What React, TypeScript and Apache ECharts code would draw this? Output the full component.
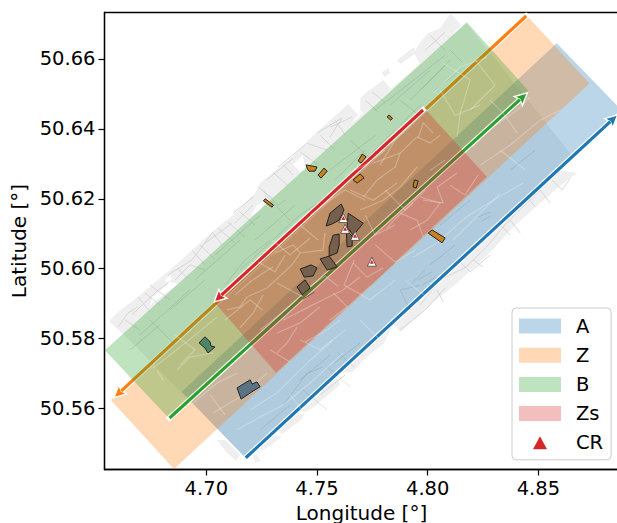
import React, { useEffect, useRef } from "react";
import * as echarts from "echarts";

type P = number[];
const xTicks = [4.7, 4.75, 4.8, 4.85];
const yTicks = [50.56, 50.58, 50.6, 50.62, 50.64, 50.66];

const bandA: P[] = [[4.7178,50.5458],[4.6889,50.5648],[4.8583,50.6645],[4.8873,50.6455]];
const bandZ: P[] = [[4.6854,50.5427],[4.6569,50.5624],[4.8448,50.6724],[4.8731,50.653]];
const bandB: P[] = [[4.6542,50.5767],[4.6831,50.5572],[4.8455,50.6509],[4.8177,50.6705]];
const bandZs: P[] = [[4.7039,50.5902],[4.7315,50.5702],[4.8267,50.6263],[4.7984,50.646]];

const arrowA: P[] = [[4.7178,50.5459],[4.8858,50.644]];
const arrowZ: P[] = [[4.8445,50.6723],[4.6583,50.5631]];
const arrowB: P[] = [[4.6834,50.5573],[4.845,50.6503]];
const arrowZs: P[] = [[4.7979,50.6454],[4.7035,50.5905]];

const mapBase: P[][] = [
  [[4.656,50.585],[4.6601,50.5876],[4.6691,50.5919],[4.6768,50.5962],[4.6836,50.5996],[4.6935,50.6053],[4.7026,50.6105],[4.713,50.6159],[4.722,50.6216],[4.7243,50.6245],[4.7387,50.6319],[4.7446,50.6359],[4.75,50.6391],[4.7641,50.6471],[4.7686,50.6439],[4.7627,50.6399],[4.8174,50.6703],[4.8658,50.6319],[4.8585,50.6282],[4.7179,50.5459],[4.6633,50.5808]],
  [[4.7604,50.6448],[4.7636,50.6465],[4.7668,50.6425],[4.7632,50.6394]],
  [[4.7695,50.6488],[4.7718,50.6502],[4.7799,50.654],[4.7835,50.6514],[4.7754,50.6468],[4.7713,50.6445],[4.7695,50.6454]],
  [[4.7862,50.6597],[4.7939,50.6634],[4.7948,50.6617],[4.7876,50.6585]],
  [[4.7957,50.664],[4.8002,50.6674],[4.8056,50.6688],[4.8102,50.6731],[4.8152,50.6697],[4.8102,50.6663],[4.7966,50.6585],[4.7939,50.6617]],
  [[4.7794,50.6562],[4.7821,50.6574],[4.783,50.656],[4.7803,50.6548]],
  [[4.8676,50.6274],[4.863,50.6254],[4.8508,50.6188],[4.8387,50.6119],[4.8282,50.6047],[4.8133,50.5959],[4.8025,50.5905],[4.7912,50.5839],[4.7876,50.5819],[4.784,50.5845],[4.8585,50.6282]],
  [[4.784,50.5836],[4.7803,50.5787],[4.7722,50.5747],[4.7659,50.5704],[4.7595,50.5704]],
  [[4.7586,50.5696],[4.7604,50.5668],[4.7482,50.5602],[4.7446,50.559],[4.7415,50.5599]],
  [[4.7406,50.5585],[4.7446,50.5585],[4.7424,50.5565],[4.7342,50.5527],[4.7315,50.5539]],
  [[4.7306,50.5522],[4.7342,50.5519],[4.7279,50.549],[4.7252,50.5479],[4.7234,50.5493]],
  [[4.7207,50.5473],[4.7229,50.5468],[4.7247,50.545],[4.722,50.5445]],
  [[4.7048,50.551],[4.7085,50.551],[4.7152,50.5467],[4.7134,50.545],[4.7089,50.5476]],
];
const mapGaps: P[][] = [
  [[4.6746,50.5896],[4.6755,50.5916],[4.6836,50.5962],[4.6872,50.5956]],
  [[4.7198,50.6148],[4.7229,50.6182],[4.7261,50.6194],[4.7252,50.6171]],
  [[4.7392,50.6299],[4.7437,50.6325],[4.7446,50.6282],[4.7424,50.6276]],
  [[4.6813,50.5968],[4.6836,50.5982],[4.6845,50.597],[4.6822,50.5959]],
];
const outerStreets: P[][] = [
  [[4.6601,50.5833],[4.6646,50.5873],[4.6691,50.5891]],
  [[4.6691,50.5919],[4.6746,50.5876]],
  [[4.6664,50.5868],[4.6782,50.5939],[4.6827,50.5959]],
  [[4.6868,50.6002],[4.6917,50.5973]],
  [[4.6827,50.5982],[4.6935,50.6025],[4.7026,50.6102]],
  [[4.6935,50.6053],[4.6994,50.6011]],
  [[4.7026,50.6105],[4.7071,50.6068]],
  [[4.6994,50.6073],[4.7116,50.613]],
  [[4.7234,50.6234],[4.7297,50.6202]],
  [[4.7274,50.6254],[4.7392,50.6316]],
  [[4.7301,50.6276],[4.7365,50.6239]],
  [[4.7347,50.6297],[4.7392,50.6268]],
  [[4.7455,50.6359],[4.7546,50.6339]],
  [[4.75,50.6388],[4.7613,50.6431],[4.7559,50.6377]],
  [[4.7559,50.6405],[4.7659,50.6434]],
  [[4.7121,50.6159],[4.7211,50.6205]],
  [[4.713,50.613],[4.7211,50.6182]],
  [[4.7966,50.5896],[4.8056,50.5968],[4.8174,50.6005],[4.8265,50.6062],[4.8355,50.613],[4.8508,50.6225]],
  [[4.8043,50.5939],[4.807,50.5905]],
  [[4.8205,50.6025],[4.825,50.6005]],
  [[4.8373,50.6139],[4.8418,50.6102]],
  [[4.8508,50.6225],[4.8554,50.6188]],
  [[4.6633,50.5853],[4.67,50.5825]],
  [[4.6723,50.593],[4.6791,50.5896]],
  [[4.6746,50.5953],[4.6836,50.5911]],
  [[4.6859,50.5968],[4.6926,50.6011],[4.6994,50.5996]],
  [[4.6972,50.6068],[4.704,50.6025]],
  [[4.7053,50.6116],[4.713,50.6073]],
  [[4.7098,50.6133],[4.7175,50.609]],
  [[4.7152,50.6162],[4.722,50.6125]],
  [[4.7252,50.6225],[4.7324,50.6182],[4.7356,50.6196]],
  [[4.7324,50.6291],[4.7446,50.6354]],
  [[4.7424,50.6334],[4.7505,50.6297]],
  [[4.7514,50.6382],[4.7582,50.6339]],
  [[4.7582,50.6425],[4.7627,50.6382]],
  [[4.7718,50.6482],[4.7776,50.6448]],
  [[4.7749,50.6505],[4.7808,50.6476]],
  [[4.8011,50.6668],[4.8079,50.6625]],
  [[4.7989,50.6625],[4.8079,50.6677]],
  [[4.7876,50.5825],[4.7989,50.5882],[4.8079,50.5945]],
  [[4.8147,50.6019],[4.8192,50.5991],[4.8282,50.6039]],
  [[4.8328,50.6125],[4.8373,50.6096]],
  [[4.8441,50.6211],[4.8486,50.6177]],
  [[4.8554,50.6259],[4.8608,50.6225],[4.8644,50.6259]],
  [[4.7627,50.5696],[4.7514,50.5639]],
];
const darkStreets: P[][] = [
  [[4.67,50.581],[4.6926,50.5939]],
  [[4.6904,50.5825],[4.7107,50.5939]],
  [[4.7152,50.5996],[4.7424,50.6154],[4.7559,50.6211]],
  [[4.7265,50.6211],[4.7378,50.6139]],
  [[4.7559,50.6282],[4.7763,50.6382]],
  [[4.7763,50.6454],[4.7966,50.6554],[4.8079,50.6611]],
  [[4.7876,50.6482],[4.7989,50.6425]],
  [[4.765,50.6368],[4.7749,50.6311]],
  [[4.7966,50.6511],[4.8079,50.6582]],
  [[4.6746,50.5853],[4.6859,50.5782]],
  [[4.6949,50.5968],[4.7152,50.6082]],
  [[4.7085,50.5954],[4.7175,50.6025],[4.7288,50.6082]],
  [[4.7695,50.6297],[4.7853,50.6397]],
  [[4.7876,50.6411],[4.7966,50.6468]],
  [[4.8034,50.6511],[4.8147,50.6568]],
  [[4.7347,50.561],[4.7455,50.5701],[4.7527,50.5719]],
  [[4.7437,50.5653],[4.7546,50.5596]],
  [[4.7546,50.5719],[4.765,50.5662]],
  [[4.7595,50.5759],[4.7668,50.5719]],
  [[4.7577,50.573],[4.7695,50.5787]],
  [[4.8228,50.6148],[4.8282,50.6162]],
  [[4.8241,50.6136],[4.8286,50.6151]],
  [[4.7957,50.5968],[4.802,50.5991]],
  [[4.7975,50.5953],[4.8038,50.5976]],
  [[4.8011,50.6011],[4.8124,50.6068]],
  [[4.7921,50.5882],[4.7876,50.5939],[4.7966,50.5953]],
  [[4.774,50.5953],[4.7853,50.6019]],
  [[4.8373,50.6282],[4.8486,50.6339]],
  [[4.6655,50.5768],[4.6791,50.5839]],
  [[4.6836,50.5882],[4.6994,50.5968]],
  [[4.704,50.6039],[4.7243,50.6153]],
  [[4.722,50.6082],[4.7401,50.6182]],
  [[4.7581,50.6254],[4.7718,50.6339]],
  [[4.783,50.6468],[4.8011,50.6568]],
  [[4.7921,50.6482],[4.8102,50.6597]],
  [[4.8102,50.6625],[4.8156,50.6591]],
  [[4.8056,50.6125],[4.8192,50.6196]],
  [[4.7921,50.5953],[4.7989,50.5996]],
  [[4.7243,50.5539],[4.7378,50.561]],
  [[4.7424,50.5682],[4.7559,50.5753]],
];
const lightStreets: P[][] = [
  [[4.7152,50.5891],[4.7184,50.5919],[4.7274,50.5945],[4.7387,50.6011],[4.7424,50.6045],[4.7527,50.6053],[4.7536,50.6102]],
  [[4.731,50.6045],[4.7392,50.6068],[4.7424,50.6045]],
  [[4.7198,50.5962],[4.7256,50.5988],[4.7301,50.6005]],
  [[4.7256,50.5925],[4.7211,50.5873],[4.7152,50.5831]],
  [[4.7093,50.5882],[4.7152,50.5891]],
  [[4.7319,50.5959],[4.7437,50.5919]],
  [[4.741,50.5911],[4.7301,50.5853],[4.7243,50.5825]],
  [[4.7347,50.5853],[4.7455,50.5888],[4.7527,50.5911],[4.7618,50.5939],[4.7695,50.5976]],
  [[4.7319,50.5816],[4.7424,50.5845],[4.7514,50.5891]],
  [[4.741,50.5833],[4.7365,50.5788],[4.7319,50.5759]],
  [[4.7573,50.5931],[4.7636,50.5891],[4.7559,50.5853]],
  [[4.7663,50.6016],[4.7727,50.5976],[4.7799,50.6002]],
  [[4.7446,50.579],[4.7546,50.5825],[4.7604,50.5853]],
  [[4.7754,50.6302],[4.7876,50.6331],[4.7952,50.6377],[4.8011,50.636],[4.8056,50.6382]],
  [[4.7876,50.6331],[4.7853,50.6291],[4.7772,50.6254],[4.7709,50.6205]],
  [[4.7957,50.6374],[4.798,50.6417],[4.8025,50.6388]],
  [[4.765,50.6225],[4.7754,50.6196],[4.7862,50.6245]],
  [[4.7695,50.6168],[4.7799,50.6196],[4.7876,50.6234],[4.7952,50.6291]],
  [[4.7966,50.6205],[4.8056,50.6188],[4.7998,50.6139],[4.7921,50.6111]],
  [[4.7934,50.6188],[4.7862,50.6148],[4.7817,50.6116]],
  [[4.798,50.6196],[4.807,50.6188],[4.8043,50.6234],[4.8133,50.6274]],
  [[4.7876,50.6159],[4.7952,50.6139],[4.798,50.6091]],
  [[4.8201,50.6348],[4.8296,50.6405],[4.8405,50.6454],[4.8463,50.6491]],
  [[4.8282,50.6482],[4.8341,50.6445],[4.8405,50.6388]],
  [[4.807,50.6588],[4.8192,50.654],[4.8147,50.6445],[4.8133,50.6377]],
  [[4.8025,50.6502],[4.8147,50.6577],[4.8268,50.6605]],
  [[4.6759,50.5716],[4.6836,50.5753],[4.694,50.5805],[4.7048,50.5862]],
  [[4.6777,50.571],[4.6804,50.5682]],
  [[4.6868,50.571],[4.6926,50.5747],[4.703,50.5759]],
  [[4.694,50.5616],[4.7048,50.5673],[4.7139,50.5701]],
  [[4.703,50.5587],[4.7152,50.5633],[4.7274,50.5701]],
  [[4.8115,50.6082],[4.8328,50.6216]],
  [[4.7934,50.6033],[4.8043,50.6074],[4.8174,50.6148],[4.8296,50.6196],[4.8432,50.6245]],
  [[4.7198,50.5596],[4.7319,50.5645],[4.7455,50.573],[4.7573,50.5796]],
  [[4.7139,50.5539],[4.7243,50.5576],[4.7347,50.561],[4.7469,50.5673],[4.7618,50.5759]],
  [[4.7084,50.5853],[4.7198,50.5911],[4.7252,50.5882]],
  [[4.713,50.5925],[4.7198,50.5962]],
  [[4.7234,50.6019],[4.731,50.5991],[4.7356,50.6039]],
  [[4.7297,50.6082],[4.7378,50.6039],[4.7469,50.6088]],
  [[4.7424,50.6125],[4.7505,50.6082]],
  [[4.7469,50.6153],[4.7559,50.6196],[4.7627,50.6225],[4.7718,50.6196]],
  [[4.7627,50.6268],[4.7718,50.6297],[4.7808,50.6339]],
  [[4.7785,50.6297],[4.7853,50.6368],[4.7921,50.6411]],
  [[4.7808,50.6225],[4.7898,50.6168],[4.7989,50.6225]],
  [[4.7718,50.6153],[4.7763,50.6096],[4.7853,50.6125]],
  [[4.7469,50.595],[4.7537,50.5979],[4.7595,50.595]],
  [[4.7763,50.6068],[4.7853,50.6019],[4.7943,50.6053]],
  [[4.7668,50.6025],[4.7622,50.5953],[4.774,50.5911],[4.7853,50.5968]],
  [[4.7424,50.5796],[4.7514,50.5768],[4.7627,50.5825]],
  [[4.7288,50.5768],[4.7378,50.5733]],
  [[4.8102,50.6239],[4.8169,50.6211],[4.8228,50.6268]],
  [[4.8011,50.6282],[4.8079,50.6311]],
  [[4.8237,50.6296],[4.8373,50.6354],[4.8508,50.6425],[4.8599,50.6454]],
  [[4.8328,50.6339],[4.8441,50.6282]],
  [[4.8056,50.6511],[4.8124,50.6439],[4.8237,50.6468]],
  [[4.8215,50.6597],[4.8305,50.6525],[4.8192,50.6454]],
  [[4.6859,50.581],[4.6949,50.5768],[4.6881,50.5725]],
  [[4.7017,50.5639],[4.7085,50.5582]],
  [[4.7898,50.5968],[4.8011,50.5911]],
  [[4.7695,50.5853],[4.7785,50.5796],[4.7876,50.5839]],
  [[4.7378,50.5639],[4.7469,50.5567]],
];

const darkSites: P[][] = [
  [[4.7541,50.6122],[4.7559,50.6159],[4.7609,50.6185],[4.7622,50.6168],[4.76,50.6139],[4.7568,50.6128]],
  [[4.7641,50.6159],[4.7709,50.613],[4.7664,50.6096],[4.7636,50.6119]],
  [[4.7573,50.6096],[4.76,50.6099],[4.76,50.6068],[4.7591,50.6045],[4.7555,50.6036],[4.7555,50.6062]],
  [[4.7632,50.6111],[4.7659,50.6093],[4.7659,50.6065],[4.7636,50.6062]],
  [[4.7514,50.6028],[4.7555,50.6036],[4.7591,50.6005],[4.7546,50.5996]],
  [[4.7424,50.5999],[4.7473,50.6011],[4.75,50.6002],[4.7482,50.5979],[4.7442,50.5976]],
  [[4.741,50.5948],[4.7446,50.5968],[4.7469,50.5945],[4.7433,50.5925]],
];
const orangeSites: P[][] = [
  [[4.7258,50.6194],[4.7266,50.62],[4.7303,50.6182],[4.7297,50.6176]],
  [[4.7451,50.6297],[4.75,50.6291],[4.7491,50.6279],[4.7464,50.6279],[4.7455,50.6288]],
  [[4.7532,50.6288],[4.7546,50.6279],[4.7518,50.6259],[4.7505,50.6268]],
  [[4.7704,50.6328],[4.7722,50.632],[4.7699,50.6302],[4.7686,50.6308]],
  [[4.7663,50.6254],[4.7695,50.6271],[4.7713,50.626],[4.7681,50.6245]],
  [[4.7817,50.6434],[4.7826,50.644],[4.7841,50.643],[4.7833,50.6425]],
  [[4.7934,50.6234],[4.794,50.6254],[4.7957,50.6251],[4.7948,50.6231]],
  [[4.8002,50.6102],[4.802,50.6111],[4.8079,50.6088],[4.8065,50.6074]],
];
const greenSite: P[][] = [[[4.6967,50.5788],[4.6994,50.5805],[4.7017,50.5791],[4.7021,50.5779],[4.7039,50.5776],[4.7008,50.5759],[4.6994,50.5773]]];
const blueSite: P[][] = [[[4.7139,50.5659],[4.7198,50.5682],[4.7207,50.567],[4.7229,50.5676],[4.7243,50.5662],[4.7211,50.565],[4.7157,50.5627]]];
const purpleTrace: P[][] = [[[4.7437,50.5913],[4.7487,50.5933]]];
const crPoints: P[] = [[4.7619,50.6145],[4.7627,50.6114],[4.7672,50.6094],[4.7748,50.602]];

const polys = (name: string, items: P[][], style: any): any => ({
  type: "custom", name, silent: true, clip: true, coordinateSystem: "cartesian2d",
  data: items.map((p) => p[0]),
  renderItem: (params: any, api: any) => ({
    type: "polygon",
    shape: { points: items[params.dataIndex].map((c) => api.coord(c)) },
    style,
  }),
});
const lines = (name: string, items: P[][], style: any): any => ({
  type: "custom", name, silent: true, clip: true, coordinateSystem: "cartesian2d",
  data: items.map((p) => p[0]),
  renderItem: (params: any, api: any) => ({
    type: "polyline",
    shape: { points: items[params.dataIndex].map((c) => api.coord(c)) },
    style: { fill: "none", ...style },
  }),
});
const arrow = (name: string, ends: P[], color: string): any => ({
  type: "custom", name, silent: true, clip: true, coordinateSystem: "cartesian2d",
  data: [ends[0]],
  renderItem: (_: any, api: any) => {
    const a = api.coord(ends[0]);
    const b = api.coord(ends[1]);
    const L = Math.hypot(b[0] - a[0], b[1] - a[1]);
    const ux = (b[0] - a[0]) / L;
    const uy = (b[1] - a[1]) / L;
    const neck = [b[0] - ux * 10, b[1] - uy * 10];
    const back = [b[0] - ux * 12, b[1] - uy * 12];
    const left = [back[0] - uy * 6, back[1] + ux * 6];
    const right = [back[0] + uy * 6, back[1] - ux * 6];
    return {
      type: "group",
      children: [
        { type: "line", shape: { x1: a[0], y1: a[1], x2: neck[0], y2: neck[1] }, style: { stroke: "#fff", lineWidth: 5.5, lineCap: "square" } },
        { type: "polygon", shape: { points: [b, left, neck, right] }, style: { fill: color, stroke: "#fff", lineWidth: 1.4, lineJoin: "miter" } },
        { type: "line", shape: { x1: a[0], y1: a[1], x2: neck[0], y2: neck[1] }, style: { stroke: color, lineWidth: 3.2 } },
      ],
    };
  },
});

const FONT = "DejaVu Sans";
const siteEdge = { stroke: "#26221c", lineWidth: 1 };

export default function App() {
  const ref = useRef<HTMLDivElement>(null);
  useEffect(() => {
    const chart = echarts.init(ref.current!, undefined, { renderer: "svg" });
    chart.setOption({
      animation: false,
      backgroundColor: "#fff",
      grid: { left: 104.5, top: 12.5, width: 514, height: 457, show: true, borderColor: "#000", borderWidth: 1.3, containLabel: false, outerBoundsMode: "none" },
      xAxis: {
        type: "value", min: 4.654, max: 4.8862, name: "Longitude [°]", nameLocation: "middle", nameGap: 32,
        nameTextStyle: { fontFamily: FONT, fontSize: 20, color: "#000" },
        axisLine: { show: true, onZero: false, lineStyle: { color: "#000", width: 1.3 } },
        axisTick: { show: true, length: 6, lineStyle: { color: "#000", width: 1.2 }, customValues: xTicks },
        axisLabel: { fontFamily: FONT, fontSize: 19.5, color: "#000", margin: 9, customValues: xTicks, formatter: (v: number) => v.toFixed(2) },
        splitLine: { show: false },
      },
      yAxis: {
        type: "value", min: 50.54255, max: 50.6733, name: "Latitude [°]", nameLocation: "middle", nameGap: 70,
        nameTextStyle: { fontFamily: FONT, fontSize: 20, color: "#000" },
        axisLine: { show: true, onZero: false, lineStyle: { color: "#000", width: 1.3 } },
        axisTick: { show: true, length: 6, lineStyle: { color: "#000", width: 1.2 }, customValues: yTicks },
        axisLabel: { fontFamily: FONT, fontSize: 19.5, color: "#000", margin: 9, customValues: yTicks, formatter: (v: number) => v.toFixed(2) },
        splitLine: { show: false },
      },
      legend: {
        orient: "vertical", left: 512, top: 308, padding: [7, 8, 6, 7], itemGap: 7.2, itemWidth: 42, itemHeight: 15,
        backgroundColor: "rgba(255,255,255,0.8)", borderColor: "#cccccc", borderWidth: 1, borderRadius: 4,
        textStyle: { fontFamily: FONT, fontSize: 19.5, color: "#000", padding: [0, 0, 0, 10], lineHeight: 22 },
        selectedMode: false,
        data: [
          { name: "A", icon: "rect", itemStyle: { color: "rgba(31,119,180,0.3)" } },
          { name: "Z", icon: "rect", itemStyle: { color: "rgba(255,127,14,0.3)" } },
          { name: "B", icon: "rect", itemStyle: { color: "rgba(44,160,44,0.3)" } },
          { name: "Zs", icon: "rect", itemStyle: { color: "rgba(214,39,40,0.3)" } },
          { name: "CR", icon: "path://M0 0M42 15M14 14L21 1L28 14Z", itemStyle: { color: "#d62728" } },
        ],
      },
      series: [
        polys("map blocks", mapBase, { fill: "#efefef" }),
        polys("map gaps", mapGaps, { fill: "#fff" }),
        lines("map streets", outerStreets, { stroke: "#cfcfcf", lineWidth: 0.8 }),
        polys("A", [bandA], { fill: "rgba(31,119,180,0.3)" }),
        arrow("A arrow", arrowA, "#1f77b4"),
        polys("Z", [bandZ], { fill: "rgba(255,127,14,0.3)" }),
        arrow("Z arrow", arrowZ, "#ff7f0e"),
        polys("B", [bandB], { fill: "rgba(44,160,44,0.3)" }),
        arrow("B arrow", arrowB, "#2ca02c"),
        polys("Zs", [bandZs], { fill: "rgba(214,39,40,0.3)" }),
        arrow("Zs arrow", arrowZs, "#d62728"),
        lines("dark streets", darkStreets, { stroke: "rgba(60,70,70,0.2)", lineWidth: 0.7 }),
        lines("light streets", lightStreets, { stroke: "rgba(255,255,255,0.26)", lineWidth: 1.2 }),
        polys("dark sites", darkSites, { fill: "#75604e", ...siteEdge }),
        polys("orange sites", orangeSites, { fill: "#c9821f", ...siteEdge }),
        polys("green site", greenSite, { fill: "#4d8569", ...siteEdge }),
        polys("blue site", blueSite, { fill: "#5a7485", ...siteEdge }),
        lines("purple trace", purpleTrace, { stroke: "#5a3a5a", lineWidth: 0.8 }),
        {
          type: "scatter", name: "CR halo", silent: true, symbol: "triangle", symbolSize: 9, data: crPoints,
          itemStyle: { color: "#fff", borderColor: "#333", borderWidth: 0.7, opacity: 1 },
        },
        {
          type: "scatter", name: "CR", silent: true, symbol: "triangle", symbolSize: 4, data: crPoints,
          itemStyle: { color: "#d62728", opacity: 1 },
        },
      ],
    });
    return () => chart.dispose();
  }, []);
  return <div ref={ref} style={{ position: "fixed", left: 0, top: 0, width: 617, height: 523 }} />;
}
